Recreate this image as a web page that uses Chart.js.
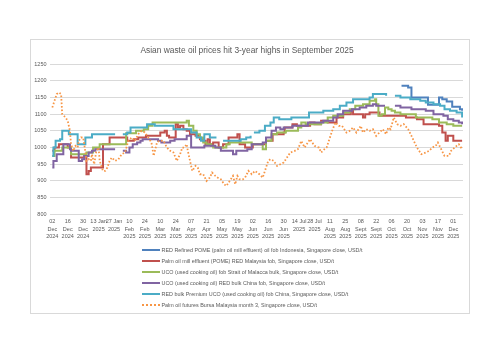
<!DOCTYPE html>
<html>
<head>
<meta charset="utf-8">
<script src="https://cdn.jsdelivr.net/npm/chart.js@4.4.1/dist/chart.umd.min.js"></script>
<style>
  body { margin: 0; background: #fff; }
  #frame { position: absolute; left: 30px; top: 39px; width: 440px; height: 275px;
           box-sizing: border-box; border: 1px solid #d9d9d9; background: #fff; }
  #chart { position: absolute; left: 0; top: 0; }
  #legend { position: absolute; left: 111px; top: 205.7px; font-family: 'Liberation Sans', sans-serif;
            font-size: 5.4px; color: #595959; }
  .row { position: absolute; left: 0; height: 8px; white-space: nowrap; display: flex; align-items: center; }
  .swatch { display: inline-block; width: 17.5px; height: 0; border-top: 2px solid; margin-right: 2px; }
</style>
</head>
<body>
<div id="frame">
  <canvas id="chart" width="438" height="273"></canvas>
  <div id="legend"></div>
</div>
<script>
// x = days since 02 Dec 2024, y = USD/t
const tickLabels = [
  ['02', 'Dec', '2024'], ['16', 'Dec', '2024'], ['30', 'Dec', '2024'], ['13 Jan', '2025'], ['27 Jan', '2025'],
  ['10', 'Feb', '2025'], ['24', 'Feb', '2025'], ['10', 'Mar', '2025'], ['24', 'Mar', '2025'], ['07', 'Apr', '2025'],
  ['21', 'Apr', '2025'], ['05', 'May', '2025'], ['19', 'May', '2025'], ['02', 'Jun', '2025'], ['16', 'Jun', '2025'],
  ['30', 'Jun', '2025'], ['14 Jul', '2025'], ['28 Jul', '2025'], ['11', 'Aug', '2025'], ['25', 'Aug', '2025'],
  ['08', 'Sept', '2025'], ['22', 'Sept', '2025'], ['06', 'Oct', '2025'], ['20', 'Oct', '2025'], ['03', 'Nov', '2025'],
  ['17', 'Nov', '2025'], ['01', 'Dec', '2025']
];

const seriesNames = [
  'RED Refined POME (palm oil mill effluent) oil fob Indonesia, Singapore close, USD/t',
  'Palm oil mill effluent (POME) RED Malaysia fob, Singapore close, USD/t',
  'UCO (used cooking oil) fob Strait of Malacca bulk, Singapore close, USD/t',
  'UCO (used cooking oil) RED bulk China fob, Singapore close, USD/t',
  'RED bulk Premium UCO (used cooking oil) fob China, Singapore close, USD/t',
  'Palm oil futures Bursa Malaysia month 3, Singapore close, USD/t'
];

const redPome = [[317,1185],[323,1180],[326,1150],[341,1128],[351,1150],[354,1145],[358,1138],[363,1122],[370,1115],[372,1110]];

const pomeMalaysia = [[0,990],[2,1000],[6,1010],[14,1000],[17,970],[29,975],[31,920],[33,930],[35,940],[46,1010],[52,1030],
  [66,1030],[68,1020],[74,1025],[78,1030],[85,1035],[95,1035],[98,1045],[102,1050],[104,1035],[106,1030],[112,1070],
  [114,1060],[116,1065],[119,1055],[122,1050],[125,1040],[130,1035],[134,1025],[137,1020],[139,1010],[141,1025],
  [143,1010],[146,1015],[151,1000],[155,1010],[160,1030],[168,1040],[170,1010],[175,1000],[182,1010],[194,1020],
  [200,1040],[210,1045],[211,1060],[218,1070],[222,1065],[234,1075],[238,1070],[244,1080],[250,1075],[258,1090],
  [264,1100],[271,1110],[273,1100],[282,1090],[284,1100],[288,1105],[297,1095],[321,1090],[331,1085],[337,1070],
  [351,1065],[354,1045],[357,1020],[359,1035],[364,1020],[372,1020]];

const ucoMalacca = [[0,975],[2,990],[9,1000],[17,980],[31,985],[37,1000],[43,1010],[67,1043],[76,1050],[83,1055],
  [87,1065],[91,1075],[121,1075],[122,1080],[124,1065],[128,1050],[131,1040],[134,1030],[137,1015],[140,1010],
  [144,1005],[146,1000],[155,1000],[158,1010],[161,1015],[179,1015],[181,1010],[190,1010],[191,995],[194,1020],
  [199,1040],[204,1045],[212,1050],[223,1060],[226,1075],[230,1070],[244,1075],[250,1090],[255,1095],[264,1105],
  [270,1115],[275,1125],[282,1130],[288,1140],[293,1145],[294,1130],[296,1095],[299,1100],[302,1120],[305,1115],
  [308,1110],[311,1105],[316,1100],[330,1090],[345,1085],[351,1075],[358,1070],[364,1065],[372,1065]];

const ucoChina = [[0,940],[1,960],[4,980],[10,1010],[16,995],[17,990],[24,960],[27,965],[29,975],[33,985],[36,990],
  [39,995],[57,995],[58,null],[64,990],[67,985],[70,1000],[73,1010],[77,1015],[80,1020],[82,1025],[96,1020],
  [99,1015],[107,1020],[111,1025],[121,1025],[122,1035],[126,1000],[138,1005],[148,1000],[153,990],[164,980],
  [167,990],[177,995],[181,1010],[191,1015],[194,1030],[199,1050],[203,1060],[207,1055],[210,1060],[218,1065],
  [232,1075],[246,1080],[255,1090],[259,1100],[264,1110],[272,1115],[279,1120],[285,1125],[291,1130],[294,1125],
  [302,1125],[303,null],[311,1125],[316,1120],[326,1115],[339,1110],[346,1100],[355,1095],[359,1085],[364,1080],
  [369,1075],[372,1070]];

const premiumUco = [[0,975],[1,1000],[3,1020],[7,1025],[9,1050],[15,1040],[23,1010],[30,1030],[36,1040],[57,1040],
  [58,null],[64,1040],[68,1045],[71,1060],[86,1070],[93,1065],[110,1055],[124,1055],[126,1045],[131,1030],[135,1020],
  [138,1040],[143,1030],[149,1030],[150,null],[155,1020],[171,1025],[176,1030],[180,1035],[181,null],[183,1045],
  [188,1050],[193,1065],[198,1075],[201,1090],[206,1085],[217,1090],[231,1090],[233,1105],[244,1105],[246,1110],
  [255,1115],[261,1125],[267,1135],[273,1145],[285,1145],[288,1150],[291,1160],[301,1160],[303,1155],[304,null],
  [311,1155],[316,1150],[325,1145],[334,1140],[339,1135],[346,1130],[352,1125],[356,1115],[361,1110],[367,1105],
  [372,1090]];

const palmFutures = [[0,1120],[2,1140],[4,1160],[6,1165],[8,1160],[9,1100],[12,1090],[14,1080],[16,1050],[17,1010],
  [19,990],[21,1005],[23,1000],[24,1020],[26,1030],[28,1030],[29,1010],[31,960],[33,965],[35,960],[36,980],[38,950],
  [40,990],[42,1000],[43,960],[46,930],[48,930],[50,940],[52,960],[54,970],[57,960],[60,965],[63,980],[66,985],
  [69,1020],[72,1030],[75,1020],[78,1040],[81,1050],[84,1045],[87,1030],[90,1015],[92,975],[95,1015],[97,1020],
  [101,1020],[104,1000],[107,990],[110,985],[113,960],[116,980],[118,1000],[120,1000],[122,1010],[123,990],[125,960],
  [127,930],[130,945],[132,940],[134,920],[137,920],[140,900],[143,910],[145,925],[148,915],[150,910],[153,905],
  [156,890],[158,885],[161,900],[164,915],[166,890],[168,915],[170,905],[173,905],[175,910],[178,930],[181,920],
  [184,930],[188,920],[191,910],[193,930],[196,960],[198,965],[201,960],[204,945],[207,950],[210,955],[213,970],
  [216,985],[220,990],[223,995],[226,1020],[229,1000],[234,1025],[238,1005],[242,1000],[244,985],[247,995],[249,1000],
  [251,1020],[254,1050],[257,1075],[260,1065],[263,1065],[267,1045],[270,1050],[273,1060],[276,1045],[280,1065],
  [282,1045],[285,1055],[288,1050],[291,1055],[294,1035],[297,1045],[300,1055],[303,1040],[305,1060],[307,1055],
  [310,1090],[313,1070],[316,1065],[319,1070],[323,1055],[326,1035],[331,1000],[335,980],[339,985],[342,990],
  [345,1000],[348,1005],[350,1015],[353,995],[356,975],[360,975],[362,990],[367,1005],[369,1010],[372,995]];

const colors = ['#4f81bd', '#c0504d', '#9bbb59', '#8064a2', '#4bacc6', '#f79646'];

function toPoints(pairs) {
  return pairs.map(p => ({ x: p[0], y: p[1] }));
}

const allSeries = [redPome, pomeMalaysia, ucoMalacca, ucoChina, premiumUco, palmFutures];

const datasets = allSeries.map((s, i) => {
  const dotted = i === 5;
  return {
    label: seriesNames[i],
    data: toPoints(s),
    borderColor: colors[i],
    backgroundColor: colors[i],
    borderWidth: dotted ? 1.8 : 2,
    borderDash: dotted ? [1.6, 1.9] : [],
    stepped: dotted ? false : true,
    pointRadius: 0,
    tension: 0,
    order: 5 - i
  };
});

Chart.defaults.font.family = "'Liberation Sans', sans-serif";
Chart.defaults.color = '#595959';

new Chart(document.getElementById('chart'), {
  type: 'line',
  data: { datasets: datasets },
  options: {
    responsive: false,
    animation: false,
    layout: { padding: { top: 0, left: 0, right: 6, bottom: 68.7 } },
    plugins: {
      legend: { display: false },
      tooltip: { enabled: false },
      title: {
        display: true,
        text: 'Asian waste oil prices hit 3-year highs in September 2025',
        color: '#595959',
        font: { size: 8.4, weight: 'normal' },
        padding: { top: 6, bottom: 8 }
      }
    },
    scales: {
      x: {
        type: 'linear',
        min: -2.1,
        max: 372.8,
        afterFit: scale => { scale.height = 30; },
        afterBuildTicks: axis => { axis.ticks = tickLabels.map((_, i) => ({ value: i * 14 })); },
        grid: { display: false, drawTicks: false },
        border: { display: false },
        ticks: {
          autoSkip: false,
          maxRotation: 0,
          padding: 4,
          font: { size: 5.5, lineHeight: 1.33 },
          callback: value => tickLabels[Math.round(value / 14)]
        }
      },
      y: {
        min: 800,
        max: 1250,
        afterFit: scale => { scale.width = 19; },
        grid: { color: '#d9d9d9', lineWidth: 1, drawTicks: false },
        border: { display: false },
        ticks: { stepSize: 50, padding: 3.5, font: { size: 5.5 }, callback: value => String(value) }
      }
    }
  }
});

// legend as real text below the chart
const legend = document.getElementById('legend');
seriesNames.forEach((name, i) => {
  const row = document.createElement('div');
  row.className = 'row';
  row.style.top = (i * 11.1) + 'px';
  const sw = document.createElement('span');
  sw.className = 'swatch';
  sw.style.borderTopColor = colors[i];
  if (i === 5) sw.style.borderTopStyle = 'dotted';
  const txt = document.createElement('span');
  txt.textContent = name;
  row.appendChild(sw);
  row.appendChild(txt);
  legend.appendChild(row);
});
</script>
</body>
</html>
